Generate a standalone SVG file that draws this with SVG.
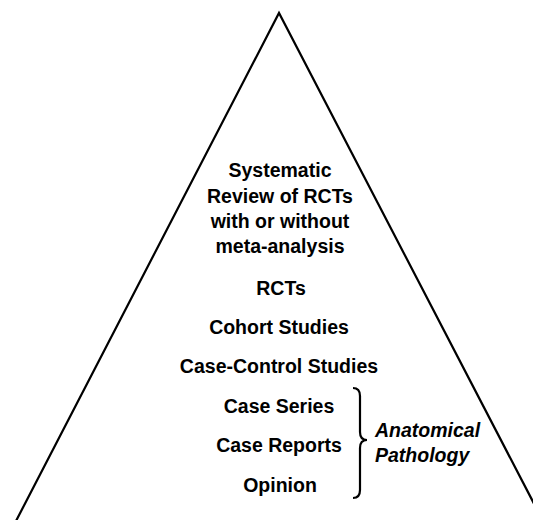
<svg xmlns="http://www.w3.org/2000/svg" width="533" height="520" viewBox="0 0 533 520">
<style>
.t{font-family:"Liberation Sans",Arial,sans-serif;font-weight:bold;font-size:19.5px;fill:#000;text-anchor:middle}
.it{font-family:"Liberation Sans",Arial,sans-serif;font-weight:bold;font-style:italic;font-size:19.5px;fill:#000}
.ln{fill:none;stroke:#000;stroke-width:2.2}
</style>
<rect width="533" height="520" fill="#fff"/>
<g id="pyramid">
<polyline class="ln" points="16,521 279,13 543,521" stroke-linejoin="miter"/>
</g>
<g id="level-systematic-review">
<text class="t" x="280" y="177">Systematic</text>
<text class="t" x="280" y="202.5">Review of RCTs</text>
<text class="t" x="280" y="228">with or without</text>
<text class="t" x="280" y="253">meta-analysis</text>
</g>
<g id="level-rcts"><text class="t" x="281" y="295">RCTs</text></g>
<g id="level-cohort"><text class="t" x="279" y="334">Cohort Studies</text></g>
<g id="level-case-control"><text class="t" x="279" y="372.5">Case-Control Studies</text></g>
<g id="level-case-series"><text class="t" x="279" y="413">Case Series</text></g>
<g id="level-case-reports"><text class="t" x="279" y="452">Case Reports</text></g>
<g id="level-opinion"><text class="t" x="280" y="492">Opinion</text></g>
<g id="anatomical-pathology">
<path class="ln" d="M353,388 q7,0 7,8 v36 q0,8 7,8 q-7,0 -7,8 v42 q0,8 -7,8"/>
<text class="it" x="375" y="437">Anatomical</text>
<text class="it" x="375" y="462">Pathology</text>
</g>
</svg>
